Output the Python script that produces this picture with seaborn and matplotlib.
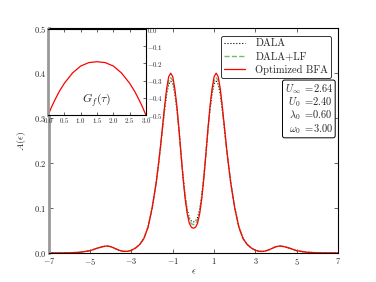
import numpy as np
import pandas as pd
import matplotlib
matplotlib.use("Agg")
import matplotlib.pyplot as plt
import matplotlib.ticker as mticker
import seaborn as sns

# data
eps = [-7.0, -6.5, -6.0, -5.5, -5.0, -4.7, -4.4, -4.2, -4.0, -3.8, -3.6, -3.4,
       -3.2, -3.0, -2.8, -2.6, -2.4, -2.2, -2.0, -1.9, -1.8, -1.7, -1.6, -1.5,
       -1.4, -1.3, -1.2, -1.1, -1.0, -0.9, -0.8, -0.7, -0.6, -0.5, -0.4, -0.3,
       -0.2, -0.1, 0.0, 0.1, 0.2, 0.3, 0.4, 0.5, 0.6, 0.7, 0.8, 0.9, 1.0, 1.1,
       1.2, 1.3, 1.4, 1.5, 1.6, 1.7, 1.8, 1.9, 2.0, 2.2, 2.4, 2.6, 2.8, 3.0,
       3.2, 3.4, 3.6, 3.8, 4.0, 4.2, 4.4, 4.7, 5.0, 5.5, 6.0, 6.5, 7.0]

bfa = [0.0, 0.0, 0.0003, 0.0015, 0.005, 0.010, 0.014, 0.0155, 0.014, 0.010,
       0.006, 0.0035, 0.0035, 0.006, 0.011, 0.019, 0.032, 0.057, 0.100, 0.128,
       0.158, 0.195, 0.235, 0.280, 0.325, 0.365, 0.392, 0.400, 0.392, 0.365,
       0.325, 0.275, 0.218, 0.165, 0.120, 0.087, 0.066, 0.057, 0.055, 0.057,
       0.066, 0.087, 0.120, 0.165, 0.218, 0.275, 0.325, 0.365, 0.392, 0.400,
       0.392, 0.365, 0.325, 0.280, 0.235, 0.195, 0.158, 0.128, 0.100, 0.057,
       0.032, 0.019, 0.011, 0.006, 0.0035, 0.0035, 0.006, 0.010, 0.014,
       0.0155, 0.014, 0.010, 0.005, 0.0015, 0.0003, 0.0, 0.0]

dala = [0.0, 0.0, 0.0003, 0.0015, 0.005, 0.010, 0.014, 0.0155, 0.014, 0.010,
        0.006, 0.0035, 0.0035, 0.006, 0.011, 0.019, 0.033, 0.058, 0.101, 0.129,
        0.159, 0.195, 0.233, 0.275, 0.316, 0.352, 0.375, 0.382, 0.376, 0.353,
        0.318, 0.272, 0.220, 0.170, 0.128, 0.097, 0.079, 0.071, 0.069, 0.071,
        0.079, 0.097, 0.128, 0.170, 0.220, 0.272, 0.318, 0.353, 0.376, 0.382,
        0.375, 0.352, 0.316, 0.275, 0.233, 0.195, 0.159, 0.129, 0.101, 0.058,
        0.033, 0.019, 0.011, 0.006, 0.0035, 0.0035, 0.006, 0.010, 0.014,
        0.0155, 0.014, 0.010, 0.005, 0.0015, 0.0003, 0.0, 0.0]

dala_lf = [0.0, 0.0, 0.0003, 0.0015, 0.005, 0.010, 0.014, 0.0155, 0.014, 0.010,
           0.006, 0.0035, 0.0035, 0.006, 0.011, 0.019, 0.032, 0.057, 0.100, 0.128,
           0.158, 0.194, 0.233, 0.277, 0.320, 0.358, 0.383, 0.390, 0.383, 0.359,
           0.321, 0.273, 0.219, 0.167, 0.124, 0.092, 0.073, 0.065, 0.063, 0.065,
           0.073, 0.092, 0.124, 0.167, 0.219, 0.273, 0.321, 0.359, 0.383, 0.390,
           0.383, 0.358, 0.320, 0.277, 0.233, 0.194, 0.158, 0.128, 0.100, 0.057,
           0.032, 0.019, 0.011, 0.006, 0.0035, 0.0035, 0.006, 0.010, 0.014,
           0.0155, 0.014, 0.010, 0.005, 0.0015, 0.0003, 0.0, 0.0]

tau = [0.0, 0.1, 0.2, 0.35, 0.5, 0.75, 1.0, 1.25, 1.5, 1.75, 2.0, 2.25, 2.5,
       2.65, 2.8, 2.9, 3.0]
g_tau = [-0.50, -0.455, -0.415, -0.36, -0.315, -0.255, -0.215, -0.195, -0.19,
         -0.195, -0.215, -0.255, -0.315, -0.36, -0.415, -0.455, -0.50]

params = ["U_\\infty", "U_0", "\\lambda_0", "\\omega_0"]
param_vals = [2.64, 2.40, 0.60, 3.00]

sns.set_style("ticks")
plt.rcParams['font.family'] = ['serif']
plt.rcParams['font.serif'] = ['cmr10', 'DejaVu Serif']
plt.rcParams['mathtext.fontset'] = 'cm'
plt.rcParams['axes.formatter.use_mathtext'] = True
plt.rcParams['axes.unicode_minus'] = True

fig = plt.figure(figsize=(3.76, 2.82), dpi=100)
ax = fig.add_axes([0.130, 0.103, 0.769, 0.797])

df = pd.DataFrame({'eps': eps, 'DALA': dala, 'DALA+LF': dala_lf, 'Optimized BFA': bfa})
sns.lineplot(data=df, x='eps', y='DALA', ax=ax, color='black', lw=0.8,
             linestyle=':', label='DALA')
sns.lineplot(data=df, x='eps', y='DALA+LF', ax=ax, color='#6abf6a', lw=1.0,
             linestyle='--', label='DALA+LF')
sns.lineplot(data=df, x='eps', y='Optimized BFA', ax=ax, color='red', lw=0.9,
             label='Optimized BFA')

ax.set_xlim(-7, 7)
ax.set_ylim(0, 0.5)
ax.set_xticks([-7, -5, -3, -1, 1, 3, 5, 7])
ax.set_yticks([0.0, 0.1, 0.2, 0.3, 0.4, 0.5])
ax.yaxis.set_major_formatter(mticker.FuncFormatter(lambda v, p: r'$%.1f$' % v))
ax.xaxis.set_major_formatter(mticker.FuncFormatter(lambda v, p: r'$%d$' % v))
ax.tick_params(direction='in', top=True, right=True, labelsize=6, length=3,
               width=0.5, pad=2)
ax.set_xlabel(r'$\epsilon$', fontsize=7, labelpad=1)
ax.set_ylabel(r'$A(\epsilon)$', fontsize=7, labelpad=4)
for s in ax.spines.values():
    s.set_linewidth(0.8)
    s.set_color('black')
ax.spines['left'].set_color('#999999')
ax.spines['left'].set_linewidth(2)

leg = ax.legend(loc='upper right', fontsize=7.5, fancybox=True, frameon=True,
                handlelength=2.0, handletextpad=1.0, borderpad=0.3,
                labelspacing=0.35, bbox_to_anchor=(0.995, 0.99))
leg.get_frame().set_edgecolor('black')
leg.get_frame().set_linewidth(0.7)

txt = "\n".join([r"$%s\ =\!%.2f$" % (p, v) for p, v in zip(params, param_vals)])
ax.text(0.983, 0.76, txt, transform=ax.transAxes, ha='right', va='top',
        fontsize=7.5, linespacing=0.95,
        bbox=dict(boxstyle='round,pad=0.2', fc='white', ec='black', lw=0.7))

# inset
ins = fig.add_axes([0.128, 0.592, 0.260, 0.305])
sns.lineplot(x=tau, y=g_tau, ax=ins, color='red', lw=0.9)
ins.set_xlim(0, 3)
ins.set_ylim(-0.5, 0.0)
ins.set_xticks([0.0, 0.5, 1.0, 1.5, 2.0, 2.5, 3.0])
ins.set_yticks([0.0, -0.1, -0.2, -0.3, -0.4, -0.5])
ins.xaxis.set_major_formatter(mticker.FuncFormatter(lambda v, p: r'$%.1f$' % v))
ins.yaxis.set_major_formatter(mticker.FuncFormatter(lambda v, p: r'$%.1f$' % v))
ins.yaxis.tick_right()
ins.tick_params(direction='in', top=True, left=False, labelsize=5, length=2.5,
                width=0.5, pad=1)
ins.text(1.5, -0.43, r'$G_f(\tau)$', fontsize=8.5, ha='center')
for s in ins.spines.values():
    s.set_linewidth(0.8)
    s.set_color('black')
ins.spines['left'].set_color('#999999')
ins.spines['left'].set_linewidth(2)

fig.savefig('out.png', dpi=100)
